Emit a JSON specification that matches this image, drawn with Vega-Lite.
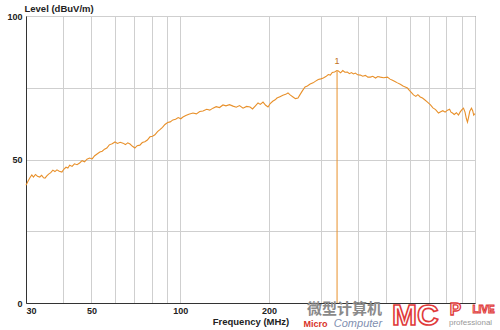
{
  "$schema": "https://vega.github.io/schema/vega-lite/v6.json",
  "width": 449,
  "height": 287,
  "autosize": {"type": "none"},
  "padding": {"left": 26, "top": 16, "right": 25, "bottom": 27},
  "background": "white",
  "config": {
    "font": "Liberation Sans",
    "view": {"stroke": "#555555", "strokeWidth": 1},
    "axis": {
      "labelFont": "Liberation Sans",
      "labelFontWeight": "bold",
      "labelFontSize": 9,
      "labelColor": "#222222",
      "titleFont": "Liberation Sans",
      "titleFontWeight": "bold",
      "titleFontSize": 9.5,
      "titleColor": "#222222",
      "ticks": false,
      "gridColor": "#cfcfcf",
      "gridWidth": 1,
      "gridOpacity": 1,
      "domainColor": "#333333",
      "domainWidth": 1
    }
  },
  "datasets": {
    "trace": [
      {"freq": 30, "level": 41.0}, {"freq": 30.5, "level": 42.5}, {"freq": 31, "level": 43.8}, {"freq": 31.4, "level": 44.6},
      {"freq": 31.8, "level": 43.9}, {"freq": 32.3, "level": 44.8}, {"freq": 32.8, "level": 44.2}, {"freq": 33.4, "level": 43.9},
      {"freq": 33.9, "level": 44.5}, {"freq": 34.4, "level": 43.6}, {"freq": 34.8, "level": 43.5}, {"freq": 35.3, "level": 44.3},
      {"freq": 35.8, "level": 44.9}, {"freq": 36.4, "level": 45.4}, {"freq": 37.0, "level": 46.3}, {"freq": 37.6, "level": 45.8},
      {"freq": 38.2, "level": 46.4}, {"freq": 38.9, "level": 45.9}, {"freq": 39.7, "level": 45.6}, {"freq": 40.3, "level": 46.6},
      {"freq": 41.0, "level": 47.3}, {"freq": 41.6, "level": 47.0}, {"freq": 42.2, "level": 48.0}, {"freq": 43.0, "level": 47.6},
      {"freq": 43.8, "level": 48.5}, {"freq": 44.7, "level": 48.2}, {"freq": 45.6, "level": 48.8}, {"freq": 46.5, "level": 49.6},
      {"freq": 47.4, "level": 49.2}, {"freq": 48.3, "level": 50.1}, {"freq": 49.3, "level": 50.5}, {"freq": 50.3, "level": 50.2},
      {"freq": 51.3, "level": 51.3}, {"freq": 52.4, "level": 52.0}, {"freq": 53.4, "level": 52.6}, {"freq": 54.4, "level": 52.9},
      {"freq": 55.4, "level": 53.6}, {"freq": 56.4, "level": 54.0}, {"freq": 57.5, "level": 55.1}, {"freq": 58.8, "level": 55.5},
      {"freq": 60.1, "level": 56.1}, {"freq": 61.3, "level": 55.6}, {"freq": 62.6, "level": 56.0}, {"freq": 64.0, "level": 55.7},
      {"freq": 65.2, "level": 55.2}, {"freq": 66.4, "level": 55.8}, {"freq": 67.6, "level": 55.4}, {"freq": 68.9, "level": 54.6},
      {"freq": 70.2, "level": 54.0}, {"freq": 71.5, "level": 54.8}, {"freq": 73.0, "level": 55.0}, {"freq": 74.4, "level": 55.9},
      {"freq": 75.9, "level": 56.2}, {"freq": 77.4, "level": 56.8}, {"freq": 79.0, "level": 57.9}, {"freq": 80.6, "level": 58.1},
      {"freq": 82.1, "level": 58.6}, {"freq": 83.8, "level": 59.7}, {"freq": 85.4, "level": 60.4}, {"freq": 87.1, "level": 61.2},
      {"freq": 88.8, "level": 62.2}, {"freq": 90.7, "level": 62.9}, {"freq": 92.5, "level": 63.1}, {"freq": 94.5, "level": 63.8},
      {"freq": 96.5, "level": 64.0}, {"freq": 98.5, "level": 64.6}, {"freq": 100.5, "level": 64.2}, {"freq": 102.2, "level": 64.8},
      {"freq": 104.5, "level": 65.3}, {"freq": 107.0, "level": 65.8}, {"freq": 110.5, "level": 66.2}, {"freq": 113.5, "level": 65.9},
      {"freq": 116.5, "level": 66.7}, {"freq": 119.5, "level": 66.9}, {"freq": 123, "level": 67.5}, {"freq": 126, "level": 67.2},
      {"freq": 129.2, "level": 67.9}, {"freq": 132.5, "level": 68.4}, {"freq": 136, "level": 68.1}, {"freq": 139.7, "level": 69.0},
      {"freq": 143, "level": 68.7}, {"freq": 147, "level": 69.1}, {"freq": 151.1, "level": 68.6}, {"freq": 155, "level": 68.2},
      {"freq": 159, "level": 68.8}, {"freq": 163.4, "level": 67.9}, {"freq": 168, "level": 68.5}, {"freq": 172.6, "level": 68.3},
      {"freq": 176, "level": 67.6}, {"freq": 180, "level": 68.7}, {"freq": 183.7, "level": 69.7}, {"freq": 187, "level": 69.2},
      {"freq": 191, "level": 70.0}, {"freq": 195, "level": 68.9}, {"freq": 198.6, "level": 68.3}, {"freq": 202, "level": 69.5},
      {"freq": 206, "level": 70.3}, {"freq": 210, "level": 70.8}, {"freq": 213, "level": 71.4}, {"freq": 218, "level": 71.9},
      {"freq": 223, "level": 72.4}, {"freq": 228, "level": 72.7}, {"freq": 232.1, "level": 73.2}, {"freq": 236, "level": 72.5},
      {"freq": 241.4, "level": 71.8}, {"freq": 246, "level": 71.2}, {"freq": 251, "level": 71.4}, {"freq": 255, "level": 72.6},
      {"freq": 260, "level": 74.0}, {"freq": 265.2, "level": 75.3}, {"freq": 270, "level": 75.6}, {"freq": 276, "level": 76.3},
      {"freq": 282.4, "level": 76.7}, {"freq": 288, "level": 77.3}, {"freq": 294, "level": 77.9}, {"freq": 300, "level": 78.1},
      {"freq": 305.9, "level": 78.4}, {"freq": 312, "level": 78.9}, {"freq": 318, "level": 79.6}, {"freq": 323.1, "level": 79.4},
      {"freq": 328, "level": 80.3}, {"freq": 334, "level": 80.5}, {"freq": 340, "level": 81.0}, {"freq": 344.1, "level": 80.8},
      {"freq": 350, "level": 80.2}, {"freq": 356, "level": 81.0}, {"freq": 362, "level": 80.4}, {"freq": 369.1, "level": 80.5},
      {"freq": 375, "level": 79.9}, {"freq": 381, "level": 80.3}, {"freq": 387, "level": 79.8}, {"freq": 392.9, "level": 80.1},
      {"freq": 400, "level": 79.5}, {"freq": 408.6, "level": 79.4}, {"freq": 416, "level": 79.0}, {"freq": 425, "level": 79.3},
      {"freq": 433, "level": 78.7}, {"freq": 441.8, "level": 78.7}, {"freq": 450, "level": 79.0}, {"freq": 460, "level": 78.4},
      {"freq": 468, "level": 78.9}, {"freq": 477.7, "level": 78.7}, {"freq": 490, "level": 78.5}, {"freq": 504.7, "level": 78.7},
      {"freq": 515, "level": 78.0}, {"freq": 525, "level": 77.6}, {"freq": 535, "level": 77.2}, {"freq": 545.8, "level": 76.7},
      {"freq": 558, "level": 76.2}, {"freq": 570, "level": 75.6}, {"freq": 580, "level": 75.3}, {"freq": 590.1, "level": 74.9},
      {"freq": 600, "level": 74.0}, {"freq": 610, "level": 73.2}, {"freq": 618.5, "level": 72.5}, {"freq": 630, "level": 72.0},
      {"freq": 640, "level": 72.6}, {"freq": 652, "level": 71.8}, {"freq": 663.5, "level": 71.4}, {"freq": 675, "level": 70.8},
      {"freq": 690, "level": 70.0}, {"freq": 706.3, "level": 69.0}, {"freq": 720, "level": 68.0}, {"freq": 735, "level": 67.4},
      {"freq": 752, "level": 66.2}, {"freq": 765, "level": 66.6}, {"freq": 778, "level": 67.0}, {"freq": 792, "level": 66.5},
      {"freq": 806.7, "level": 67.2}, {"freq": 820, "level": 67.5}, {"freq": 829, "level": 66.5}, {"freq": 838.9, "level": 66.2},
      {"freq": 850, "level": 65.7}, {"freq": 865, "level": 66.3}, {"freq": 878.9, "level": 65.5}, {"freq": 890, "level": 66.5},
      {"freq": 903, "level": 67.4}, {"freq": 914, "level": 67.9}, {"freq": 925, "level": 66.5}, {"freq": 935, "level": 64.2},
      {"freq": 943, "level": 63.0}, {"freq": 950, "level": 64.5}, {"freq": 960, "level": 66.8}, {"freq": 972.9, "level": 67.9},
      {"freq": 982, "level": 67.0}, {"freq": 990, "level": 65.5}, {"freq": 1000, "level": 66.0}
    ],
    "marker": [{"freq": 340.5, "level": 80.8, "base": 0, "label": "1"}],
    "logo": [
      {"t": "微型计算机", "part": "cn", "f": 360.6, "v": -1.92},
      {"t": "Micro", "part": "micro", "f": 287.5, "v": -7.32},
      {"t": "Computer", "part": "computer", "f": 400.8, "v": -7.32},
      {"t": "MC", "part": "mc", "f": 628, "v": -4.53},
      {"t": "P", "part": "p", "f": 858.6, "v": -2.44},
      {"t": "LIVE", "part": "live", "f": 1068.6, "v": -2.44},
      {"t": "professional", "part": "pro", "f": 965.7, "v": -6.97}
    ]
  },
  "layer": [
    {
      "data": {"name": "trace"},
      "mark": {"type": "line", "color": "#E8902A", "strokeWidth": 1.1, "interpolate": "linear"},
      "encoding": {
        "x": {
          "field": "freq",
          "type": "quantitative",
          "scale": {"type": "log", "domain": [30, 1000], "nice": false},
          "axis": {
            "title": "Frequency (MHz)",
            "values": [30, 40, 50, 60, 70, 80, 90, 100, 200, 300, 400, 500, 600, 700, 800, 900, 1000],
            "format": "d",
            "labelExpr": "indexof([30, 50, 100, 200], datum.value) >= 0 ? datum.label : ''",
            "labelFlush": true,
            "labelPadding": 3,
            "titlePadding": 1
          }
        },
        "y": {
          "field": "level",
          "type": "quantitative",
          "scale": {"domain": [0, 100], "nice": false},
          "axis": {
            "title": "Level (dBuV/m)",
            "values": [0, 12.5, 25, 37.5, 50, 62.5, 75, 87.5, 100],
            "labelExpr": "datum.value % 50 == 0 ? datum.label : ''",
            "labelPadding": 4,
            "titleAngle": 0,
            "titleAlign": "left",
            "titleBaseline": "middle",
            "titleX": -2,
            "titleY": -8
          }
        }
      }
    },
    {
      "data": {"name": "marker"},
      "mark": {"type": "rule", "color": "#E8902A", "strokeWidth": 1},
      "encoding": {
        "x": {"field": "freq", "type": "quantitative"},
        "y": {"field": "level", "type": "quantitative"},
        "y2": {"field": "base"}
      }
    },
    {
      "data": {"name": "marker"},
      "mark": {"type": "text", "color": "#C07020", "fontSize": 9, "baseline": "bottom", "dy": -5},
      "encoding": {
        "x": {"field": "freq", "type": "quantitative"},
        "y": {"field": "level", "type": "quantitative"},
        "text": {"field": "label", "type": "nominal"}
      }
    },
    {
      "data": {"name": "logo"},
      "transform": [{"filter": "datum.part == 'cn'"}],
      "mark": {"type": "text", "font": "Noto Sans CJK SC", "fontWeight": "bold", "fontSize": 15, "color": "#8a8a8a", "align": "center", "baseline": "middle"},
      "encoding": {"x": {"field": "f", "type": "quantitative"}, "y": {"field": "v", "type": "quantitative"}, "text": {"field": "t", "type": "nominal"}}
    },
    {
      "data": {"name": "logo"},
      "transform": [{"filter": "datum.part == 'micro'"}],
      "mark": {"type": "text", "fontWeight": "bold", "fontSize": 9, "color": "#d8322a", "align": "center", "baseline": "middle"},
      "encoding": {"x": {"field": "f", "type": "quantitative"}, "y": {"field": "v", "type": "quantitative"}, "text": {"field": "t", "type": "nominal"}}
    },
    {
      "data": {"name": "logo"},
      "transform": [{"filter": "datum.part == 'computer'"}],
      "mark": {"type": "text", "fontStyle": "italic", "fontSize": 11, "color": "#7f8fb0", "align": "center", "baseline": "middle"},
      "encoding": {"x": {"field": "f", "type": "quantitative"}, "y": {"field": "v", "type": "quantitative"}, "text": {"field": "t", "type": "nominal"}}
    },
    {
      "data": {"name": "logo"},
      "transform": [{"filter": "datum.part == 'mc'"}],
      "mark": {"type": "text", "fontWeight": "bold", "fontSize": 30, "fill": "white", "stroke": "#e03a3a", "strokeWidth": 1.6, "align": "center", "baseline": "middle"},
      "encoding": {"x": {"field": "f", "type": "quantitative"}, "y": {"field": "v", "type": "quantitative"}, "text": {"field": "t", "type": "nominal"}}
    },
    {
      "data": {"name": "logo"},
      "transform": [{"filter": "datum.part == 'p'"}],
      "mark": {"type": "text", "fontWeight": "bold", "fontSize": 17, "fill": "white", "stroke": "#e03a3a", "strokeWidth": 1.3, "align": "center", "baseline": "middle"},
      "encoding": {"x": {"field": "f", "type": "quantitative"}, "y": {"field": "v", "type": "quantitative"}, "text": {"field": "t", "type": "nominal"}}
    },
    {
      "data": {"name": "logo"},
      "transform": [{"filter": "datum.part == 'live'"}],
      "mark": {"type": "text", "fontWeight": "bold", "fontSize": 10, "fill": "white", "stroke": "#e03a3a", "strokeWidth": 1, "align": "center", "baseline": "middle"},
      "encoding": {"x": {"field": "f", "type": "quantitative"}, "y": {"field": "v", "type": "quantitative"}, "text": {"field": "t", "type": "nominal"}}
    },
    {
      "data": {"name": "logo"},
      "transform": [{"filter": "datum.part == 'pro'"}],
      "mark": {"type": "text", "fontSize": 8, "color": "#999999", "align": "center", "baseline": "middle"},
      "encoding": {"x": {"field": "f", "type": "quantitative"}, "y": {"field": "v", "type": "quantitative"}, "text": {"field": "t", "type": "nominal"}}
    }
  ]
}
